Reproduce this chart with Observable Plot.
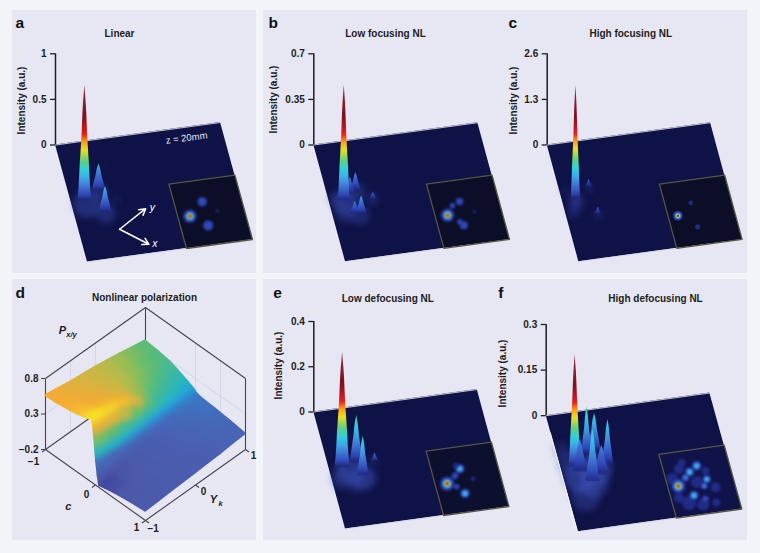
<!DOCTYPE html>
<html><head><meta charset="utf-8">
<style>
html,body{margin:0;padding:0;background:#f3f3fa}
#page{position:relative;width:760px;height:553px;overflow:hidden;background:#f3f3fa}
.bg{position:absolute;background:#e6e7f3}
#page svg{position:absolute;overflow:visible;background:transparent}
</style>
<script src="https://cdn.jsdelivr.net/npm/d3@7"></script>
<script src="https://cdn.jsdelivr.net/npm/@observablehq/plot@0.6"></script>
</head><body><div id="page"></div>
<script>
// jet-like colour ramp (normalised intensity)
const jetPos=[0,.05,.12,.19,.26,.34,.44,.51,.57,.72,1];
const jetCol=["#1b2478","#3048b8","#3f74d0","#3fa6e6","#2fd0e0","#5fd080","#f0e020","#fb9a1a","#e81c1c","#7c101e","#9a2a40"];
// spike silhouette: fraction of height -> fraction of base half-width
const profT=[0,.1,.3,.57,.75,.86,.95,1];
const profW=[1,.85,.68,.4,.28,.18,.06,0];
// inset spot rings
const ringLevels=[.01,.05,.12,.2,.3,.45,.6,.85];
const ringRadii=[1,.8,.62,.52,.44,.34,.24,.13];

// peaks: u, v (on the plate), apparent intensity, half width, top colour level
const peaksA=[[.18,.43,.30,.045,.2],[.082,.494,1.27,.042,1],[.184,.613,.29,.042,.22]];
const peaksB=[[.136,.447,.13,.034,.12],[.174,.427,.14,.034,.14],[.264,.514,.05,.024,.08],[.09,.495,.89,.038,1],[.133,.618,.10,.032,.12],[.171,.625,.14,.036,.18]];
const peaksC=[[.18,.394,.22,.02,.07],[.083,.48,3.25,.03,1],[.191,.629,.2,.02,.07]];
const peaksE=[[.283,.473,.035,.022,.1],[.172,.467,.21,.042,.33],[.081,.49,.51,.046,1],[.189,.583,.175,.038,.3]];
const peaksF=[[.176,.375,.16,.036,.33],[.226,.357,.127,.044,.27],[.283,.482,.15,.038,.27],[.087,.46,.37,.038,1],[.11,.506,.108,.05,.15],[.231,.557,.098,.05,.14],[.168,.602,.173,.044,.3]];
// floor haze: u, v, radius, opacity
const hazeA=[[.09,.52,14,.45],[.185,.62,10,.4],[.18,.44,8,.35],[.27,.52,3,.3]];
const hazeB=[[.09,.52,12,.45],[.05,.47,8,.35],[.17,.44,10,.35],[.16,.63,10,.35],[.26,.51,6,.3],[.08,.6,10,.3]];
const hazeC=[[.08,.5,7,.5],[.05,.58,6,.3],[.03,.4,5,.15],[.18,.4,4,.3],[.19,.63,4,.3]];
const hazeE=[[.06,.58,11,.35],[.12,.52,14,.55],[.19,.6,12,.55],[.13,.65,8,.3],[.28,.47,4,.3]];
const hazeF=[[.06,.42,12,.35],[.1,.55,16,.6],[.2,.5,17,.6],[.1,.72,14,.4],[.17,.62,14,.5],[.03,.3,8,.25]];
// inset spots: s, t (inside the inset), radius, level
const spotsA=[[.179,.524,7,1],[.417,.33,5,.05],[.41,.698,5.5,.05],[.6,.5,1.6,.01]];
const spotsB=[[.187,.51,7,1],[.417,.33,4,.05],[.296,.378,3,.05],[.386,.695,4.4,.05],[.34,.636,3,.05],[.596,.513,1.8,.01]];
const spotsC=[[.146,.514,5,.9],[.389,.343,2.2,.01],[.394,.722,2.6,.01]];
const spotsE=[[.18,.53,7.5,1],[.427,.333,5,.2],[.327,.429,3.6,.05],[.582,.511,2.2,.01],[.406,.713,5,.2],[.31,.595,3,.05],[.38,.28,3,.01]];
const spotsF=[[.233,.269,5,.01],[.1,.4,6,.01],[.25,.8,7,.01],[.45,.85,6,.01],[.7,.62,5,.01],[.45,.5,6,.01],[.12,.7,5,.01],[.62,.35,4,.01],[.3,.18,4,.01],[.65,.85,4,.01],
 [.159,.521,7.5,1],[.382,.332,5,.2],[.511,.254,5,.2],[.297,.409,4,.12],[.605,.478,4.4,.2],[.541,.574,3.6,.12],[.351,.695,5,.2],[.507,.77,3.6,.05]];
// titles and letters
const names=["Linear","Low focusing NL","High focusing NL","Nonlinear polarization","Low defocusing NL","High defocusing NL"];
const letters=["a","b","c","d","e","f"];

// surface of panel d: columns are Y_k, rows are c
const surfY=[-1,-.75,-.5,-.25,0,.25,.5,.75,1];
const surfC=[-1,-.75,-.5,-.35,-.25,-.15,-.07,-.04,-.02,0,.02,.05,.08,.2,.4,.7,1];
const surfP=[
[.56,.53,.50,.48,.46,.43,.40,.365,.33],
[.57,.54,.51,.49,.46,.43,.39,.35,.31],
[.60,.56,.53,.50,.46,.41,.36,.32,.28],
[.62,.585,.55,.51,.45,.39,.33,.28,.24],
[.64,.60,.57,.53,.44,.36,.30,.25,.21],
[.66,.64,.61,.56,.43,.31,.25,.21,.18],
[.69,.68,.66,.62,.50,.26,.20,.17,.15],
[.60,.60,.58,.52,.34,.22,.18,.155,.14],
[.46,.44,.40,.32,.23,.18,.16,.14,.13],
[.30,.27,.23,.19,.16,.14,.13,.12,.115],
[.14,.13,.11,.10,.10,.10,.105,.105,.105],
[-.04,-.03,-.01,.02,.04,.06,.08,.09,.10],
[-.17,-.14,-.10,-.05,0,.03,.06,.08,.09],
[-.15,-.12,-.09,-.05,-.01,.02,.05,.07,.08],
[-.12,-.10,-.07,-.04,-.01,.01,.04,.06,.07],
[-.09,-.08,-.06,-.04,-.02,0,.02,.04,.05],
[-.07,-.06,-.05,-.04,-.03,-.02,-.01,.01,.02]];
const surfLevels=[-.17,-.1,0,.05,.1,.13,.15,.2,.27,.35,.42,.5,.56,.62,.66];
const surfColors=["#383c94","#4b58a8","#4a5fb2","#4668b8","#3380cc","#2a9ad8","#1fabd8","#2ab6c0","#3fb89a","#63bd6e","#a6bd50","#dcb33f","#f6a932","#f7c82c","#f8ee22"];
const pTicks=[-.2,.3,.8];

const geoms=[
 {i:0,left:12,top:10,w:244,h:263,x0:55,y0:144.5,yTop:53.3,ux:165,uy:-22.5,vx:32,vy:117,max:1,ticks:[0,.5,1],peaks:peaksA,haze:hazeA,spots:spotsA,tx:119,ty:33,lx:15,ly:23,ax:21,ay:100,inset:"#0b0e26",soft:.9},
 {i:1,left:263,top:10,w:243,h:263,x0:313.3,y0:144.5,yTop:53.3,ux:164,uy:-22.3,vx:31.7,vy:116.7,max:.7,ticks:[0,.35,.7],peaks:peaksB,haze:hazeB,spots:spotsB,tx:385,ty:33,lx:268,ly:23,ax:273,ay:99,inset:"#0b0e26",soft:.9},
 {i:2,left:506,top:10,w:241,h:263,x0:546.7,y0:144.5,yTop:53.3,ux:163.3,uy:-22.3,vx:31.6,vy:116.7,max:2.6,ticks:[0,1.3,2.6],peaks:peaksC,haze:hazeC,spots:spotsC,tx:630.3,ty:33,lx:508,ly:23,ax:513,ay:100,inset:"#0b0e26",soft:.5},
 {i:4,left:263,top:279,w:243,h:261,x0:313.3,y0:411.5,yTop:321,ux:163.4,uy:-22.5,vx:31.7,vy:117,max:.4,ticks:[0,.2,.4],peaks:peaksE,haze:hazeE,spots:spotsE,tx:387.3,ty:298,lx:272.7,ly:293,ax:278.3,ay:365,inset:"#0c0f2e",soft:.9},
 {i:5,left:506,top:279,w:241,h:261,x0:545.7,y0:415.2,yTop:324,ux:163.6,uy:-22.7,vx:32,vy:116,max:.3,ticks:[0,.15,.3],peaks:peaksF,haze:hazeF,spots:spotsF,tx:655,ty:298,lx:497.7,ly:293,ax:502.7,ay:373,inset:"#10134a",soft:1.1}
];
const page=document.getElementById("page");
for(const [l,t,w,h] of [[12,10,244,263],[263,10,484,263],[12,279,244,261],[263,279,484,261]]){
  const d=document.createElement("div");d.className="bg";
  d.style.cssText=`left:${l}px;top:${t}px;width:${w}px;height:${h}px`;page.appendChild(d);
}
const font="'Liberation Sans',Arial,sans-serif";
function mount(p,l,t){p.style.left=l+"px";p.style.top=t+"px";page.appendChild(p);}

function plate(g){
  const k=(g.y0-g.yTop)/g.max;
  const X=(u,v)=>u+v*g.vx/g.ux;
  const Y=(u,v,z=0)=>z-(g.uy*u+g.vy*v)/k;
  const atX=px=>(px-g.x0)/g.ux, atY=py=>(g.y0-py)/k;
  const quad=(u0,u1,v0,v1)=>[[u0,v0,u0,v1],[u1,v0,u1,v1]].map(([a,b,c,d])=>({x1:X(a,b),y1:Y(a,b),x2:X(c,d),y2:Y(c,d)}));
  const inU=s=>.6+.4*s, inV=t=>.45+.55*t;
  const spikes=[...g.peaks].sort((a,b)=>Y(b[0],b[1])-Y(a[0],a[1])).map((p,j)=>({p,id:`g${g.i}_${j}`}));
  const rows=spikes.flatMap(({p:[u,v,h,hw],id})=>profT.map((t,m)=>({id,y:Y(u,v,h*t),x1:X(u,v)-hw*profW[m],x2:X(u,v)+hw*profW[m]})));
  const jet=d3.scaleLinear(jetPos,jetCol);
  const defs=()=>{
    const s=d3.create("svg:defs");
    for(const {p,id} of spikes){
      const L=p[4],n=L===1?30:8;
      const gr=s.append("linearGradient").attr("id",id).attr("x1",0).attr("y1",1).attr("x2",0).attr("y2",0);
      d3.range(n+1).forEach(q=>gr.append("stop").attr("offset",q/n).attr("stop-color",jet(L*q/n)).attr("stop-opacity",q===0?.55:1));
    }
    return s.node();
  };
  const rings=g.spots.flatMap(([s,t,r,lv],j)=>ringLevels.map((level,m)=>({j,m,level,r:r*ringRadii[m],x:X(inU(s),inV(t)),y:Y(inU(s),inV(t))})).filter(d=>d.level<=lv));
  const border=[[.6,.45],[1,.45],[1,1],[.6,1],[.6,.45]].map(([u,v])=>({x:X(u,v),y:Y(u,v)}));
  const edge=(v)=>[0,1].map(u=>({x:X(u,v),y:Y(u,v)}));
  const marks=[
    defs,
    Plot.area(quad(0,1,0,1),{x1:"x1",y1:"y1",x2:"x2",y2:"y2",fill:"#0f1247"}),
    Plot.line(edge(0),{x:"x",y:"y",stroke:"#d8d8de",strokeWidth:.9}),
    Plot.line(edge(1),{x:"x",y:"y",stroke:"#d8d8de",strokeWidth:.9}),
    Plot.area(quad(.6,1,.45,1),{x1:"x1",y1:"y1",x2:"x2",y2:"y2",fill:g.inset}),
    Plot.dot(rings,{x:"x",y:"y",r:"r",fill:"level",imageFilter:`blur(${g.soft}px)`}),
    Plot.line(border,{x:"x",y:"y",stroke:"#565644",strokeWidth:1.3}),
    Plot.dot(g.haze,{x:d=>X(d[0],d[1]),y:d=>Y(d[0],d[1]),r:d=>d[2],fill:"#3a4fb4",fillOpacity:d=>d[3],imageFilter:"blur(3px)"}),
    ...spikes.map(({id})=>Plot.areaX(rows.filter(r=>r.id===id),{x1:"x1",x2:"x2",y:"y",fill:`url(#${id})`,curve:"monotone-y",imageFilter:"blur(.35px)"})),
    Plot.ruleX([0],{y1:0,y2:g.max,stroke:"#1d1d22",strokeWidth:1.5}),
    Plot.axisY({ticks:g.ticks,tickSize:5,tickPadding:4,label:null,tickFormat:String,fontSize:10,fontWeight:"bold",stroke:"#1d1d22",strokeWidth:1.3,color:"#1d1d22"}),
    Plot.text([names[g.i]],{x:atX(g.tx),y:atY(g.ty),fontSize:10,fontWeight:"bold",fill:"#1d1d22"}),
    Plot.text([letters[g.i]],{x:atX(g.lx),y:atY(g.ly),fontSize:15.5,fontWeight:"bold",textAnchor:"start",fill:"#111"}),
    Plot.text(["Intensity (a.u.)"],{x:atX(g.ax),y:atY(g.ay),rotate:-90,fontSize:10,fontWeight:"bold",fill:"#1d1d22"})
  ];
  if(g.i===5) marks.push(Plot.line([{x:X(0,.15),y:Y(0,.15)},{x:X(0,1),y:Y(0,1)}],{x:"x",y:"y",stroke:"#fff",strokeWidth:1,dx:-.6}));
  if(g.i===0){
    const s=[.24,.766],ty=[.425,.626],tx=[.387,.923];
    marks.push(
      Plot.arrow([ty,tx],{x1:X(...s),y1:Y(...s),x2:d=>X(...d),y2:d=>Y(...d),stroke:"#fff",strokeWidth:1.5,headLength:7,bend:false}),
      Plot.text(["y"],{x:X(.465,.628),y:Y(.465,.628),fill:"#fff",fontStyle:"italic",fontSize:10.5}),
      Plot.text(["x"],{x:X(.423,.927),y:Y(.423,.927),fill:"#fff",fontStyle:"italic",fontSize:10.5}),
      Plot.text(["z = 20mm"],{x:X(.777,.09),y:Y(.777,.09),fill:"#e8e8f0",fontSize:9.5,rotate:-7.5})
    );
  }
  const chart=Plot.plot({
    width:g.w,height:g.h,
    marginLeft:g.x0-g.left,marginRight:g.left+g.w-(g.x0+g.ux),
    marginTop:g.yTop-g.top,marginBottom:g.top+g.h-g.y0,
    x:{domain:[0,1],axis:null},y:{domain:[0,g.max],axis:null},
    r:{type:"identity"},
    color:{type:"linear",domain:jetPos,range:jetCol,legend:false},
    style:{fontFamily:font,background:"transparent",overflow:"visible"},
    marks
  });
  mount(chart,g.left,g.top);
}
geoms.forEach(plate);

// panel d
(function(){
  const left=12,top=279,W=244,H=261;
  const sx=(c,y)=>c+y;
  const sy=(c,y,p)=>p-(c-y)/2;
  const atX=px=>(px-45)/50-2, atY=py=>-.2+(449-py)/71;
  const cells=[];
  for(let i=0;i<surfC.length-1;i++)for(let j=0;j<surfY.length-1;j++){
    const c0=surfC[i],c1=surfC[i+1],y0=surfY[j],y1=surfY[j+1];
    const v=(surfP[i][j]+surfP[i+1][j]+surfP[i][j+1]+surfP[i+1][j+1])/4;
    const order=(c0+c1-y0-y1)/2;
    const pt=(a,b,p)=>[sx(a,b),sy(a,b,p)];
    const A=pt(c0,y0,surfP[i][j]),B=pt(c1,y0,surfP[i+1][j]),C=pt(c0,y1,surfP[i][j+1]),D=pt(c1,y1,surfP[i+1][j+1]);
    cells.push({order,v,rows:[{x1:A[0],y1:A[1],x2:B[0],y2:B[1]},{x1:C[0],y1:C[1],x2:D[0],y2:D[1]}]});
  }
  cells.sort((a,b)=>a.order-b.order);
  const rows=cells.flatMap((c,n)=>c.rows.map(r=>({...r,id:n,v:c.v})));
  const seg=([c1,y1,p1,c2,y2,p2])=>({x1:sx(c1,y1),y1:sy(c1,y1,p1),x2:sx(c2,y2),y2:sy(c2,y2,p2)});
  const boxEdges=[[-1,-1,-.2,-1,1,-.2],[-1,-1,.8,-1,1,.8],[-1,1,.8,1,1,.8],[-1,-1,-.2,-1,-1,.8],[1,1,-.2,1,1,.8],[-1,1,.33,-1,1,.8],[-1,-1,-.2,1,-1,-.2],[1,-1,-.2,1,1,-.2]];
  const gridLines=[[-1,0,-.2,-1,0,.8],[0,1,-.2,0,1,.8],[-1,-1,.3,-1,1,.3],[-1,1,.3,1,1,.3],[-1,-.5,-.2,-1,-.5,.8],[.5,1,-.2,.5,1,.8],[0,-1,-.2,0,1,-.2],[-1,0,-.2,1,0,-.2]];
  const tickSegs=[[-1,-1,-.2,-1,-1.07,-.2],[0,-1,-.2,0,-1.07,-.2],[1,-1,-.2,1,-1.07,-.2],[1,-1,-.2,1.07,-1,-.2],[1.07,0,-.2,1,0,-.2],[1.07,1,-.2,1,1,-.2]];
  const labels=[["−1",33,461],["0",86,494],["1",136,527.7],["−1",152.7,528.3],["0",203,491.7],["1",253,455]];
  const defs=()=>{
    const s=d3.create("svg:defs");
    const f=s.append("filter").attr("id","smooth").attr("x","-5%").attr("y","-5%").attr("width","110%").attr("height","110%").attr("color-interpolation-filters","sRGB");
    f.append("feGaussianBlur").attr("in","SourceGraphic").attr("stdDeviation",3).attr("result","b");
    f.append("feComponentTransfer").attr("in","b").attr("result","o").append("feFuncA").attr("type","linear").attr("slope",4);
    f.append("feComposite").attr("in","o").attr("in2","SourceAlpha").attr("operator","in");
    f.append("feGaussianBlur").attr("stdDeviation",.35);
    return s.node();
  };
  const ink="#44444c";
  const chart=Plot.plot({
    width:W,height:H,marginLeft:45-left,marginRight:left+W-245,marginTop:378-top,marginBottom:top+H-449,
    x:{domain:[-2,2],axis:null},y:{domain:[-.2,.8],axis:null},
    color:{type:"linear",domain:surfLevels,range:surfColors,legend:false},
    style:{fontFamily:font,background:"transparent",overflow:"visible"},
    marks:[
      defs,
      Plot.link(gridLines.map(seg),{x1:"x1",y1:"y1",x2:"x2",y2:"y2",stroke:"#d2d3e1",strokeWidth:.8}),
      Plot.link(boxEdges.map(seg),{x1:"x1",y1:"y1",x2:"x2",y2:"y2",stroke:ink,strokeWidth:1.1}),
      Plot.link(tickSegs.map(seg),{x1:"x1",y1:"y1",x2:"x2",y2:"y2",stroke:ink,strokeWidth:1.1}),
      Plot.area(rows,{x1:"x1",y1:"y1",x2:"x2",y2:"y2",z:"id",fill:"v",stroke:"v",strokeWidth:1.8,imageFilter:"url(#smooth)"}),
      Plot.axisY({ticks:pTicks,tickSize:4,tickPadding:3,label:null,tickFormat:d=>d<0?"−"+(-d):String(d),fontSize:10,fontWeight:"bold",stroke:ink,color:"#1d1d22"}),
      Plot.text(labels,{x:d=>atX(d[1]),y:d=>atY(d[2]),text:d=>d[0],fontSize:10,fontWeight:"bold",fill:"#1d1d22"}),
      Plot.text([names[3]],{x:atX(144),y:atY(297.7),fontSize:10,fontWeight:"bold",fill:"#1d1d22"}),
      Plot.text([letters[3]],{x:atX(15),y:atY(293),fontSize:15.5,fontWeight:"bold",textAnchor:"start",fill:"#111"}),
      Plot.text(["c"],{x:atX(67.7),y:atY(506),fontSize:11,fontWeight:"bold",fontStyle:"italic",fill:"#1d1d22"}),
      Plot.text(["P"],{x:atX(62),y:atY(330),fontSize:11,fontWeight:"bold",fontStyle:"italic",fill:"#1d1d22"}),
      Plot.text(["x/y"],{x:atX(71),y:atY(334),fontSize:7.5,fontWeight:"bold",fontStyle:"italic",fill:"#1d1d22"}),
      Plot.text(["Y"],{x:atX(213),y:atY(499),fontSize:11,fontWeight:"bold",fontStyle:"italic",fill:"#1d1d22"}),
      Plot.text(["k"],{x:atX(220),y:atY(503),fontSize:7.5,fontWeight:"bold",fontStyle:"italic",fill:"#1d1d22"})
    ]
  });
  mount(chart,left,top);
})();
</script></body></html>
